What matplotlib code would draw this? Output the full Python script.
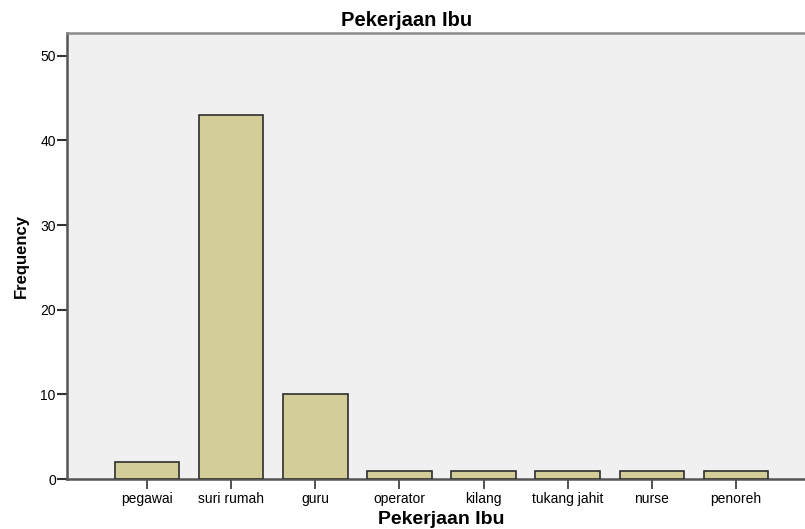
import matplotlib
matplotlib.use("Agg")
import matplotlib.pyplot as plt
import numpy as np

# data
categories = ["pegawai", "suri rumah", "guru", "operator", "kilang",
              "tukang jahit", "nurse", "penoreh"]
frequency = [2, 43, 10, 1, 1, 1, 1, 1]
y_ticks = [0, 10, 20, 30, 40, 50]

plt.rcParams["font.family"] = ["Liberation Sans", "DejaVu Sans"]

fig = plt.figure(figsize=(8.05, 5.29), dpi=100)
ax = fig.add_axes([0.0832, 0.0945, 0.9305, 0.8431])

x = np.arange(len(categories))
ax.bar(x, frequency, width=0.77, color="#D3CE97", edgecolor="#2E2E2E",
       linewidth=1.2, zorder=3)

ax.set_facecolor("#F0F0F0")
ax.set_xlim(-0.95, len(categories) - 1 + 0.95)
ax.set_ylim(0, 52.7)
ax.set_yticks(y_ticks)
ax.set_xticks(x)
ax.set_xticklabels(categories, fontsize=10)
ax.tick_params(axis="y", labelsize=10, length=7, width=1.5, color="#333333", pad=1)
ax.tick_params(axis="x", length=7, width=1.2, color="#333333", pad=2)

for side in ["left", "bottom"]:
    ax.spines[side].set_color("#555555")
    ax.spines[side].set_linewidth(1.8)
ax.spines["top"].set_color("#8C8C8C")
ax.spines["top"].set_linewidth(1.8)
ax.spines["right"].set_visible(False)

ax.set_ylabel("Frequency", fontsize=12, fontweight="bold", labelpad=8)
ax.set_xlabel("Pekerjaan Ibu", fontsize=14, fontweight="bold", labelpad=4)
fig.text(407 / 805, 1 - 20 / 529, "Pekerjaan Ibu", fontsize=14.5,
         fontweight="bold", ha="center", va="center")

plt.savefig("out.png", dpi=100)
plt.close(fig)
